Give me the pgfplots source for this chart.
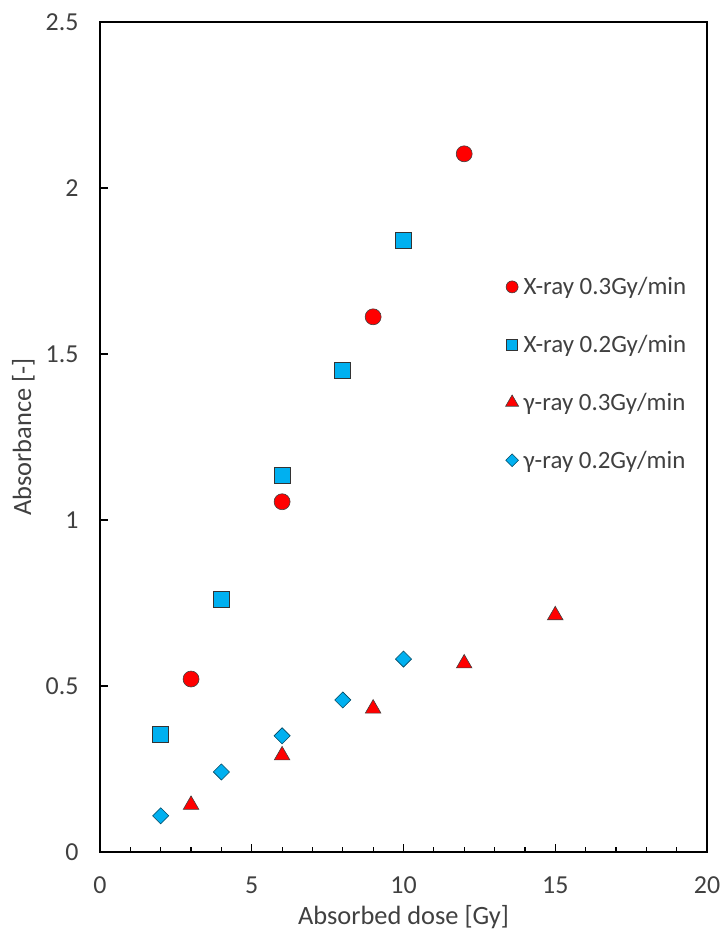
\documentclass[border=0pt]{standalone}
\usepackage{pgfplots}
\pgfplotsset{compat=1.18}
\usepackage{fontspec}
\setmainfont{Carlito}
\definecolor{xred}{RGB}{255,0,0}
\definecolor{xblue}{RGB}{0,176,240}
\definecolor{txt}{RGB}{64,64,64}
\begin{document}
\begin{tikzpicture}[x=1bp,y=1bp]
\useasboundingbox (-100bp,-83bp) rectangle (621bp,852bp);
\begin{axis}[
  at={(0,0)}, anchor=origin,
  scale only axis, width=607bp, height=830bp,
  xmin=0, xmax=20, ymin=0, ymax=2.5,
  xtick={0,5,10,15,20}, ytick={0,0.5,1,1.5,2,2.5},
  minor x tick num=4,
  tick align=inside,
  xtick pos=bottom, ytick pos=left,
  major tick length=8bp, minor tick length=5bp,
  every tick/.style={black, line width=1.2pt},
  axis line style={line width=1.4pt},
  /pgf/number format/assume math mode=true,
  font=\fontsize{26}{30}\selectfont,
  tick label style={font=\fontsize{26}{30}\selectfont, color=txt},
  xticklabel style={yshift=-21bp},
  yticklabel style={xshift=-18bp},
  xlabel={Absorbed dose [Gy]}, ylabel={Absorbance [-]},
  xlabel style={font=\fontsize{26.5}{30}\selectfont, color=txt, yshift=-5bp},
  ylabel style={font=\fontsize{26.5}{30}\selectfont, color=txt, yshift=4bp},
  legend style={draw=none, fill=none, at={(rel axis cs:0.663,0.696)}, anchor=north west,
    font=\fontsize{25}{29}\selectfont, text=txt, row sep=37bp, column sep=4bp,
    nodes={inner sep=1bp}},
  legend cell align=left,
  legend image code/.code={\draw[#1] plot coordinates {(0.2cm,0cm)};},
]
\addplot[only marks, mark=*, mark size=8bp, mark options={fill=xred, draw=black!75, line width=0.6pt},
  legend image post style={mark size=6bp}]
  coordinates {(3,0.521) (6,1.055) (9,1.612) (12,2.103)};
\addlegendentry{X-ray 0.3Gy/min}
\addplot[only marks, mark=square*, mark size=8bp, mark options={fill=xblue, draw=black!80, line width=0.7pt},
  legend image post style={mark size=5.5bp}]
  coordinates {(2,0.353) (4,0.760) (6,1.134) (8,1.452) (10,1.843)};
\addlegendentry{X-ray 0.2Gy/min}
\addplot[only marks, mark=triangle*, mark size=9bp, mark options={fill=xred, draw=black!75, line width=0.6pt},
  legend image post style={mark size=7.5bp}]
  coordinates {(3,0.142) (6,0.291) (9,0.432) (12,0.568) (15,0.713)};
\addlegendentry{γ-ray 0.3Gy/min}
\addplot[only marks, mark=square*, mark size=5.7bp, mark options={fill=xblue, draw=xblue!40!black, line width=0.6pt, rotate=45},
  legend image post style={mark size=4.5bp}]
  coordinates {(2,0.109) (4,0.241) (6,0.350) (8,0.458) (10,0.581)};
\addlegendentry{γ-ray 0.2Gy/min}
\end{axis}
\end{tikzpicture}
\end{document}
